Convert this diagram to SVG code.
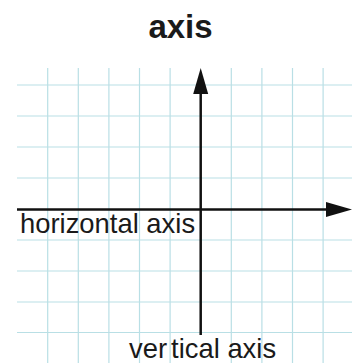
<svg xmlns="http://www.w3.org/2000/svg" width="358" height="363" viewBox="0 0 358 363">
  <style>
    .grid line { stroke: #b9dfe5; stroke-width: 1.2; }
    .axis { stroke: #111; stroke-width: 2.5; fill: none; }
    .title { font-family: "Liberation Sans", Arial, sans-serif; font-weight: bold; font-size: 33px; fill: #1a1a1a; }
    .label { font-family: "Liberation Sans", Arial, sans-serif; font-size: 27.4px; fill: #1a1a1a; }
  </style>
  <defs>
    <marker id="arrow" markerUnits="userSpaceOnUse" markerWidth="27" markerHeight="16" refX="0" refY="7.5" orient="auto">
      <path d="M0,0 L26,7.5 L0,15 Z" fill="#111"/>
    </marker>
  </defs>
  <rect width="358" height="363" fill="#ffffff"/>
  <g id="grid" class="grid">
    <line x1="47.7" y1="68" x2="47.7" y2="363"/>
    <line x1="78.3" y1="68" x2="78.3" y2="363"/>
    <line x1="108.9" y1="68" x2="108.9" y2="363"/>
    <line x1="139.5" y1="68" x2="139.5" y2="363"/>
    <line x1="170.1" y1="68" x2="170.1" y2="363"/>
    <line x1="231.3" y1="68" x2="231.3" y2="363"/>
    <line x1="261.9" y1="68" x2="261.9" y2="363"/>
    <line x1="292.5" y1="68" x2="292.5" y2="363"/>
    <line x1="323.1" y1="68" x2="323.1" y2="363"/>
    <line x1="17" y1="85" x2="352" y2="85"/>
    <line x1="17" y1="116" x2="352" y2="116"/>
    <line x1="17" y1="147" x2="352" y2="147"/>
    <line x1="17" y1="178" x2="352" y2="178"/>
    <line x1="17" y1="240" x2="352" y2="240"/>
    <line x1="17" y1="271" x2="352" y2="271"/>
    <line x1="17" y1="302" x2="352" y2="302"/>
    <line x1="17" y1="332.5" x2="352" y2="332.5"/>
  </g>
  <g id="connectors">
    <line class="axis" x1="17" y1="209.5" x2="326" y2="209.5" marker-end="url(#arrow)"/>
    <line class="axis" x1="200.7" y1="335" x2="200.7" y2="94" marker-end="url(#arrow)"/>
  </g>
  <g id="title">
    <text class="title" x="180.5" y="38" text-anchor="middle">axis</text>
  </g>
  <g id="horizontal-axis-label">
    <text class="label" x="20" y="233">horizontal axis</text>
  </g>
  <g id="vertical-axis-label">
    <text class="label" x="129" y="357.5">ver<tspan dx="4">tical axis</tspan></text>
  </g>
</svg>
